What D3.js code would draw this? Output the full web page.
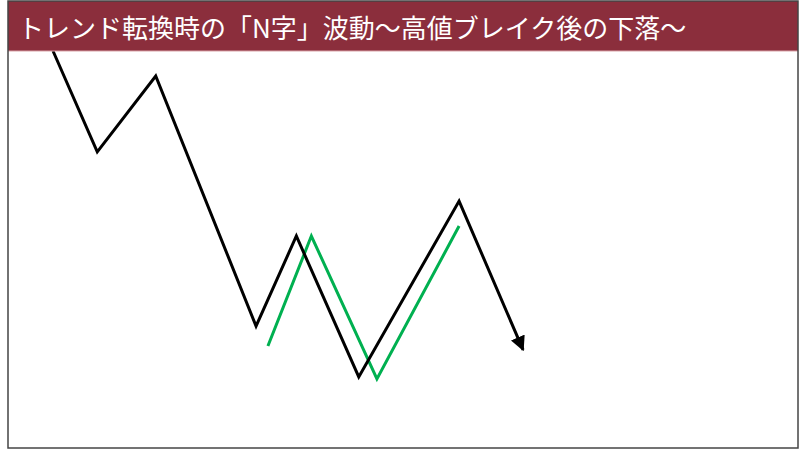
<!DOCTYPE html>
<html>
<head>
<meta charset="utf-8">
<script src="https://cdn.jsdelivr.net/npm/d3@7"></script>
<style>
  body { margin: 0; background: #fff; }
</style>
</head>
<body>
<div id="chart"></div>
<script>
// title
const titleText = "トレンド転換時の「N字」波動〜高値ブレイク後の下落〜";

// price swings (time index, price level)
const blackTime = [5.7, 11.3, 18.7, 31.4, 36.5, 44.4, 57.1, 65.2];
const blackPrice = [100, 74.6, 93.7, 30.7, 53.4, 17.9, 62.2, 24.7];

// the "N" wave drawn alongside
const greenTime = [32.9, 38.4, 46.7, 57.1];
const greenPrice = [25.7, 53.4, 17.4, 55.9];

const width = 800, height = 450;
const frame = { left: 8, right: 798, top: 1, bottom: 448 };
const titleH = 50;

const svg = d3.select("#chart")
    .append("svg")
    .attr("width", width)
    .attr("height", height);

const x = d3.scaleLinear()
    .domain([0, 100])
    .range([frame.left, frame.right]);

const y = d3.scaleLinear()
    .domain([0, 100])
    .range([frame.bottom, frame.top + titleH]);

// arrow head
svg.append("defs").append("marker")
    .attr("id", "arrow")
    .attr("viewBox", "0 0 10 10")
    .attr("refX", 9)
    .attr("refY", 5)
    .attr("markerWidth", 5)
    .attr("markerHeight", 5)
    .attr("markerUnits", "strokeWidth")
    .attr("orient", "auto")
    .append("path")
    .attr("d", "M0,0 L10,5 L0,10 Z")
    .attr("fill", "#000");

// background + frame
svg.append("rect")
    .attr("x", frame.left)
    .attr("y", frame.top)
    .attr("width", frame.right - frame.left)
    .attr("height", frame.bottom - frame.top)
    .attr("fill", "#fff");

const line = d3.line()
    .x(d => x(d[0]))
    .y(d => y(d[1]));

// green N wave
svg.append("path")
    .datum(d3.zip(greenTime, greenPrice))
    .attr("d", line)
    .attr("fill", "none")
    .attr("stroke", "#00b050")
    .attr("stroke-width", 3)
    .attr("stroke-linejoin", "miter");

// black price line
svg.append("path")
    .datum(d3.zip(blackTime, blackPrice))
    .attr("d", line)
    .attr("fill", "none")
    .attr("stroke", "#000")
    .attr("stroke-width", 3)
    .attr("stroke-linejoin", "miter")
    .attr("marker-end", "url(#arrow)");

// title bar
svg.append("rect")
    .attr("x", frame.left)
    .attr("y", frame.top)
    .attr("width", frame.right - frame.left)
    .attr("height", titleH)
    .attr("fill", "#8b2e3c");

svg.append("line")
    .attr("x1", frame.left)
    .attr("x2", frame.right)
    .attr("y1", frame.top + titleH)
    .attr("y2", frame.top + titleH)
    .attr("stroke", "#d9a3a8")
    .attr("stroke-width", 1);

svg.append("text")
    .attr("x", 18)
    .attr("y", frame.top + titleH / 2)
    .attr("dominant-baseline", "central")
    .attr("font-family", "'Noto Sans CJK JP', sans-serif")
    .attr("font-size", "26px")
    .attr("fill", "#fff")
    .text(titleText);

// outer frame
svg.append("rect")
    .attr("x", frame.left)
    .attr("y", frame.top)
    .attr("width", frame.right - frame.left)
    .attr("height", frame.bottom - frame.top)
    .attr("fill", "none")
    .attr("stroke", "#444")
    .attr("stroke-width", 1.5);
</script>
</body>
</html>
